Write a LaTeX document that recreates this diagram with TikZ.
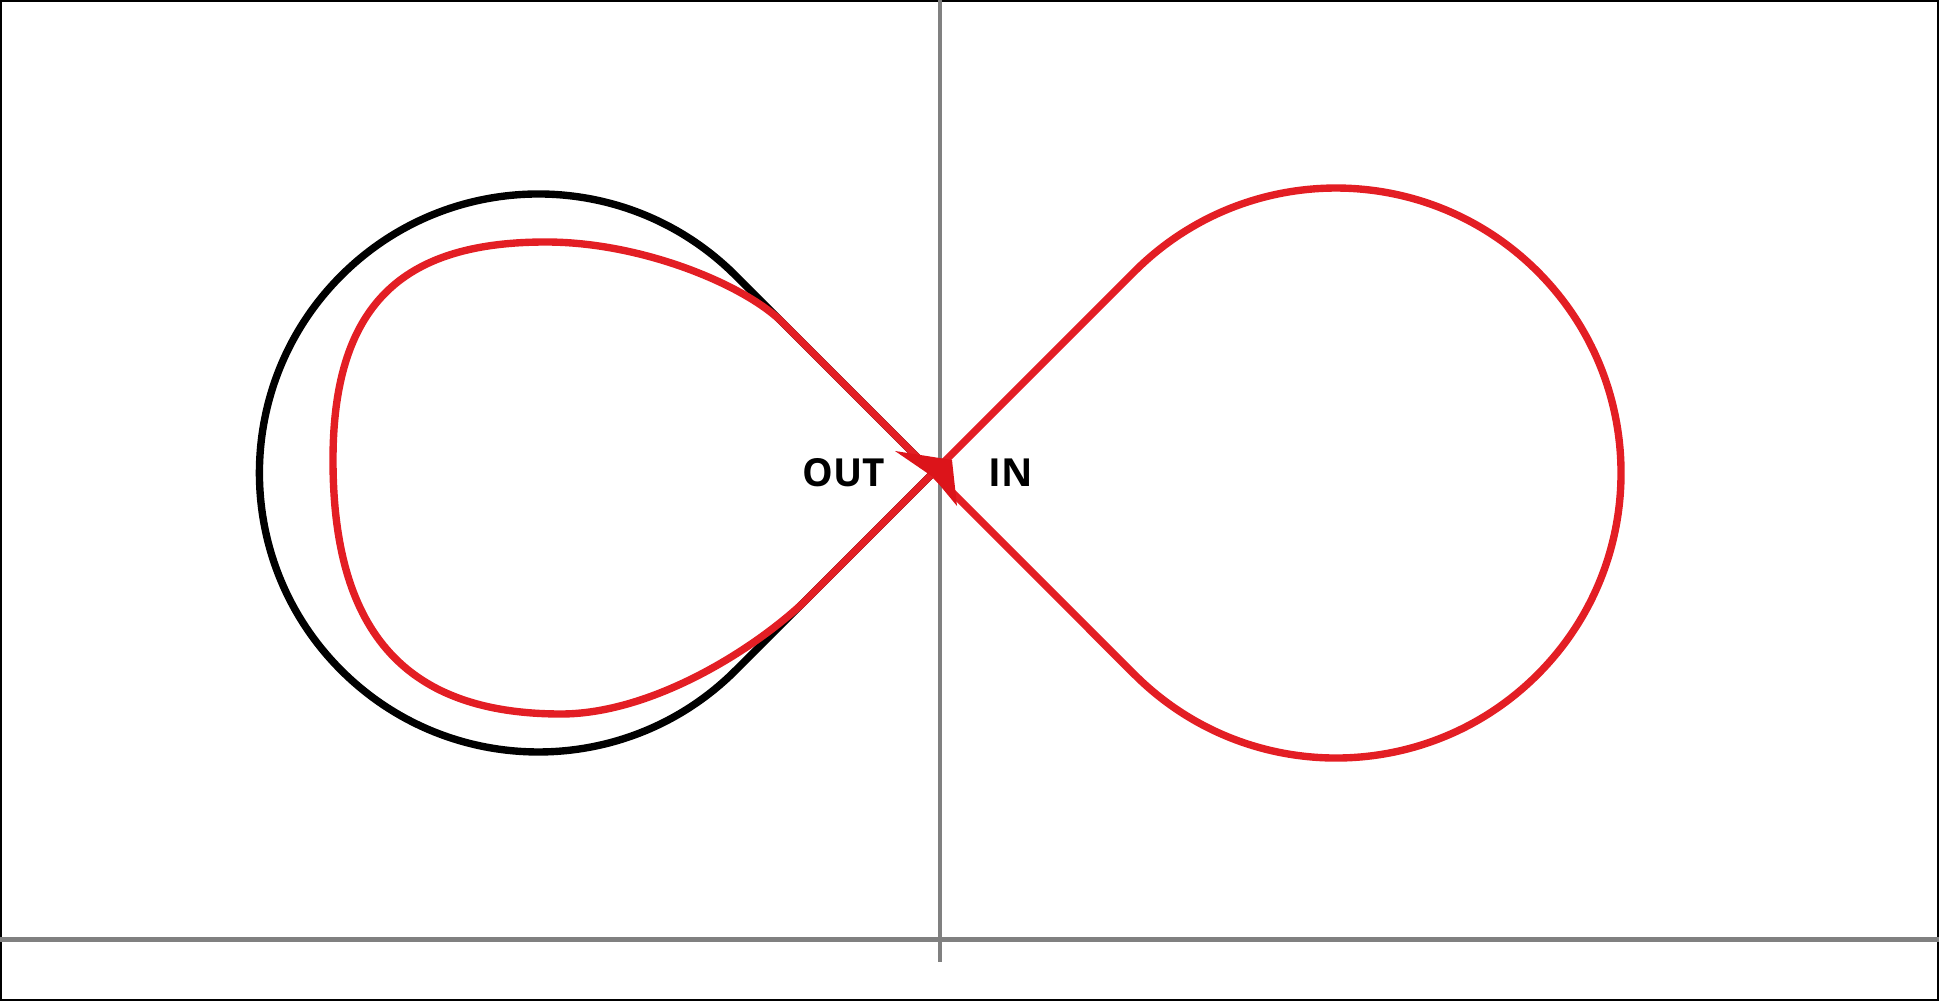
\documentclass[tikz,border=0pt]{standalone}
\usepackage{fontspec}
\setsansfont{Open Sans}
\usepackage{tikz}
\usetikzlibrary{positioning}
\definecolor{loopred}{RGB}{227,30,36}
\definecolor{tipred}{RGB}{220,20,26}
\definecolor{axisgray}{RGB}{128,128,128}
\tikzset{axisline/.style={draw=axisgray,line width=1.3pt},
         loopline/.style={draw=loopred,line width=2.1pt,line join=round},
         circline/.style={draw=black,line width=2.1pt},
         portlabel/.style={inner sep=0pt,font=\sffamily\bfseries\fontsize{11}{13}\selectfont}}

\begin{document}
\begin{tikzpicture}
\useasboundingbox (0,0) rectangle (19.39,10.01);
\draw[line width=0.7pt] (0.0125,0.0125) rectangle (19.3775,9.9975);
\draw[axisline] (9.40,10.01)--(9.40,0.39);
\draw[axisline] (0,0.615)--(19.39,0.615);
\coordinate (P) at (9.33,5.28);
% black loop
\draw[circline] (P)--(7.357,7.253) arc[start angle=45,end angle=315,radius=2.79]--cycle;
% red figure eight
\draw[loopline] (P)--(7.80,6.81)
  .. controls (7.40,7.18) and (6.40,7.59) .. (5.46,7.59)
  .. controls (4.10,7.59) and (3.33,7.04) .. (3.33,5.41)
  .. controls (3.33,3.64) and (4.10,2.87) .. (5.61,2.87)
  .. controls (6.50,2.87) and (7.50,3.49) .. (8.02,3.97)
  --(P)--(11.345,7.295) arc[start angle=135,end angle=-135,radius=2.85]--cycle;
\fill[tipred] (9.52,5.41)--(8.95,5.50)--(9.33,5.24)--(9.57,4.95)--cycle;
\node[portlabel,left=0.47cm of P] (out) {OUT};
\node[portlabel,right=0.55cm of P] (in) {IN};
\end{tikzpicture}
\end{document}
